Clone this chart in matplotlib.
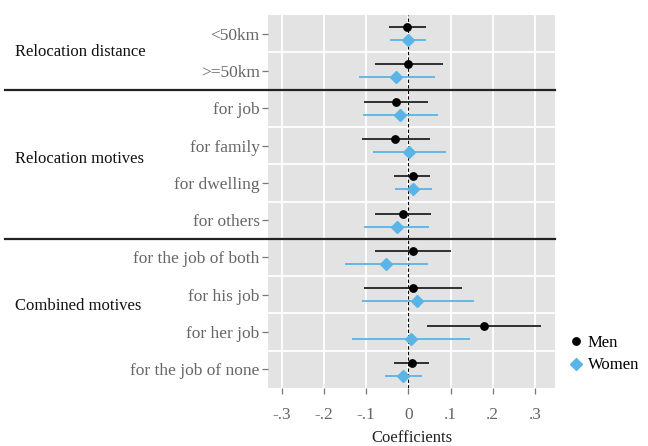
'''
    Coefficient plot: relocation distance / motives, men vs women
'''
import numpy as np
import matplotlib
matplotlib.use('Agg')
import matplotlib.pyplot as plt
from matplotlib.transforms import blended_transform_factory

plt.rcParams['font.family'] = 'Liberation Serif'

categories = ['<50km', '>=50km',
              'for job', 'for family', 'for dwelling', 'for others',
              'for the job of both', 'for his job', 'for her job', 'for the job of none']

men_coef  = [-0.003, 0.000, -0.030, -0.031, 0.010, -0.013, 0.010, 0.010, 0.179, 0.008]
men_lo    = [-0.045, -0.079, -0.104, -0.109, -0.035, -0.079, -0.080, -0.105, 0.044, -0.035]
men_hi    = [0.041, 0.081, 0.046, 0.051, 0.052, 0.054, 0.100, 0.126, 0.313, 0.049]

women_coef = [0.000, -0.028, -0.020, 0.002, 0.011, -0.027, -0.053, 0.021, 0.006, -0.013]
women_lo   = [-0.043, -0.116, -0.108, -0.083, -0.031, -0.104, -0.150, -0.109, -0.133, -0.056]
women_hi   = [0.042, 0.063, 0.071, 0.088, 0.055, 0.049, 0.047, 0.155, 0.147, 0.032]

groups       = ['Relocation distance', 'Relocation motives', 'Combined motives']
group_ypos   = [0.5, 3.35, 7.3]
group_breaks = [1.5, 5.5]

x_ticks      = [-0.3, -0.2, -0.1, 0.0, 0.1, 0.2, 0.3]
x_ticklabels = ['-.3', '-.2', '-.1', '0', '.1', '.2', '.3']

_blue  = '#5AB4E6'
_gray  = '#666666'
_off   = 0.175

fig = plt.figure(figsize=(6.48, 4.46), dpi=100)
ax = fig.add_axes([268 / 648, 1 - 388 / 446, 287 / 648, 373 / 446])
ax.set_facecolor('#E3E3E3')

_y = np.arange(len(categories))

# grid: white lines between categories and at x ticks
for xt in x_ticks:
    ax.axvline(xt, color='white', lw=1.3, zorder=0)
for yb in np.arange(0.5, len(categories) - 1, 1.0):
    if yb in group_breaks:
        continue
    ax.axhline(yb, color='white', lw=1.3, zorder=0)
ax.axvline(0, color='black', lw=0.8, ls=(0, (3, 2)), zorder=1)

# confidence intervals and point estimates
ax.hlines(_y - _off, men_lo, men_hi, color='#222222', lw=1.3, zorder=2)
ax.hlines(_y + _off, women_lo, women_hi, color=_blue, lw=1.3, zorder=2)
ax.plot(men_coef, _y - _off, 'o', color='black', ms=5.3, zorder=3, label='Men')
ax.plot(women_coef, _y + _off, 'D', color=_blue, ms=6, zorder=3, label='Women')

ax.set_xlim(-0.332, 0.347)
ax.set_ylim(len(categories) - 0.5, -0.5)

ax.set_yticks(_y)
ax.set_yticklabels(categories, fontsize=12.5, color=_gray)
ax.set_xticks(x_ticks)
ax.set_xticklabels(x_ticklabels, fontsize=12.5, color=_gray)
ax.tick_params(axis='both', length=4, width=0.9, color='#777777', pad=2)
ax.tick_params(axis='x', pad=10)
for spine in ax.spines.values():
    spine.set_visible(False)
ax.set_xlabel('Coefficients', fontsize=12, color='#222222', labelpad=5)

# group separators across the full left side
_tr = blended_transform_factory(fig.transFigure, ax.transData)
for yb in group_breaks:
    ax.plot([5 / 648, 555 / 648], [yb, yb], color='#222222', lw=1.6,
            transform=_tr, clip_on=False, zorder=4)

for _name, _gy in zip(groups, group_ypos):
    ax.text(15 / 648, _gy, _name, transform=_tr, fontsize=12,
            color='#111111', va='center', ha='left')

ax.legend(loc='upper left', bbox_to_anchor=(561 / 648, 1 - 328 / 446),
          bbox_transform=fig.transFigure, frameon=False, fontsize=12,
          handletextpad=0.2, labelspacing=0.4, handlelength=1.0,
          borderaxespad=0)

fig.savefig('out.png', dpi=100)
